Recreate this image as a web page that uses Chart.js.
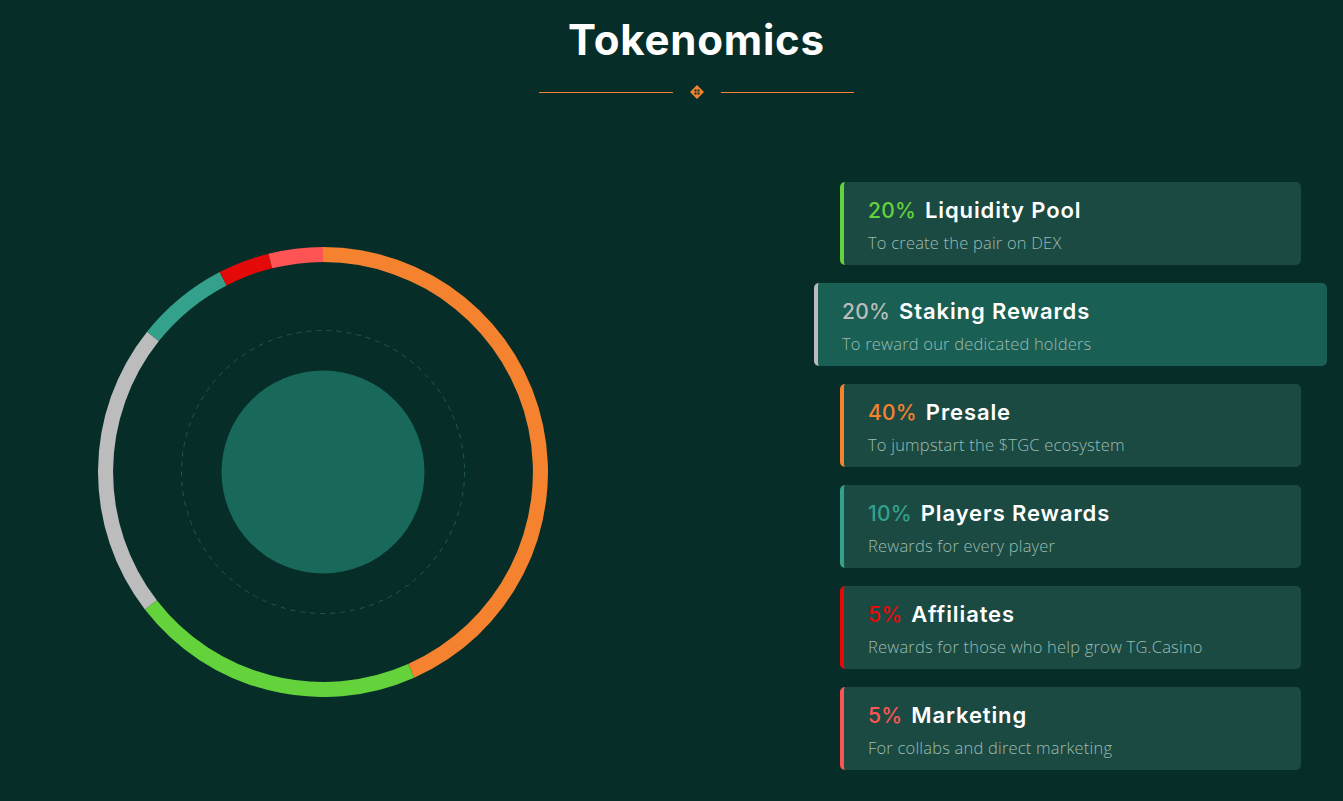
<!DOCTYPE html>
<html>
<head>
<meta charset="utf-8">
<script src="https://cdn.jsdelivr.net/npm/chart.js@4"></script>
<style>
  html, body { margin: 0; padding: 0; }
  body { width: 1343px; height: 801px; background: #062d27; position: relative; overflow: hidden; font-family: Inter, "Open Sans", sans-serif; }
  h1 { position: absolute; left: 0; width: 1393px; top: 14px; margin: 0; text-align: center; color: #fff; font-family: Inter, sans-serif; font-weight: 700; font-size: 42px; letter-spacing: 0.8px; }
  .rule { position: absolute; top: 92px; height: 1px; background: #f5822f; }
  .icon { position: absolute; left: 690px; top: 85px; width: 14px; height: 14px; }
  #ringBox { position: absolute; left: 98px; top: 247px; width: 450px; height: 450px; }
  .card { position: absolute; height: 83px; background: #1b4a42; border-radius: 5px; box-sizing: border-box; border-left: 4px solid; padding-left: 24px; }
  .card.on { background: #1a5f53; }
  .card .head { margin-top: 15px; font-size: 22px; font-weight: 600; color: #fff; white-space: nowrap; letter-spacing: 0.9px; }
  .card .head span { font-size: 21px; font-weight: 500; margin-right: 9px; letter-spacing: 0.2px; }
  .card .note { margin-top: 8px; font-family: "Open Sans", sans-serif; font-weight: 300; font-size: 16.5px; color: #9cbcb2; white-space: nowrap; letter-spacing: 0.2px; }
</style>
</head>
<body>
<h1>Tokenomics</h1>
<div class="rule" style="left:539px;width:134px"></div>
<div class="rule" style="left:721px;width:133px"></div>
<svg class="icon" viewBox="0 0 14 14">
  <path d="M7 0 L14 7 L7 14 L0 7 Z" fill="#f5822f"/>
  <rect x="4.5" y="4.5" width="2" height="2" fill="#062d27"/>
  <rect x="7.5" y="4.5" width="2" height="2" fill="#062d27"/>
  <rect x="4.5" y="7.5" width="2" height="2" fill="#062d27"/>
  <rect x="7.5" y="7.5" width="2" height="2" fill="#062d27"/>
</svg>
<div id="ringBox"><canvas id="ring" width="450" height="450"></canvas></div>
<div id="cards"></div>
<script>
// ring order, clockwise from the top
const ringLabels = ["Presale", "Liquidity Pool", "Staking Rewards", "Players Rewards", "Affiliates", "Marketing"];
const ringValues = [43.4, 21.2, 21.2, 6.7, 3.7, 3.9];
const ringColors = ["#f5822f", "#63d23b", "#bcbcbc", "#34a18d", "#e40a0a", "#ff5454"];

// list on the right
const cardLabels = ["Liquidity Pool", "Staking Rewards", "Presale", "Players Rewards", "Affiliates", "Marketing"];
const cardPercents = [20, 20, 40, 10, 5, 5];
const cardNotes = [
  "To create the pair on DEX",
  "To reward our dedicated holders",
  "To jumpstart the $TGC ecosystem",
  "Rewards for every player",
  "Rewards for those who help grow TG.Casino",
  "For collabs and direct marketing"
];

var box = document.getElementById("cards");
cardLabels.forEach(function (name, i) {
  var c = ringColors[ringLabels.indexOf(name)];
  var on = i === 1;
  var d = document.createElement("div");
  d.className = "card" + (on ? " on" : "");
  d.style.left = (on ? 814 : 840) + "px";
  d.style.width = (on ? 513 : 461) + "px";
  d.style.top = (182 + i * 101) + "px";
  d.style.borderLeftColor = c;
  d.innerHTML = '<div class="head"><span style="color:' + c + '">' + cardPercents[i] + '%</span>' + name + '</div>' +
    '<div class="note">' + cardNotes[i] + '</div>';
  box.appendChild(d);
});

// inner decoration: dashed guide and filled disc
var innerDeco = {
  id: "innerDeco",
  beforeDatasetsDraw: function (chart) {
    var a = chart.getDatasetMeta(0).data[0];
    if (!a) return;
    var g = chart.ctx, r = a.outerRadius;
    g.save();
    g.beginPath();
    g.setLineDash([5, 5]);
    g.lineWidth = 1;
    g.strokeStyle = "#1f5a4e";
    g.arc(a.x, a.y, r * 141.5 / 225, 0, Math.PI * 2);
    g.stroke();
    g.setLineDash([]);
    g.beginPath();
    g.fillStyle = "#19695b";
    g.arc(a.x, a.y, r * 101.5 / 225, 0, Math.PI * 2);
    g.fill();
    g.restore();
  }
};

new Chart(document.getElementById("ring").getContext("2d"), {
  type: "doughnut",
  data: {
    labels: ringLabels,
    datasets: [{ data: ringValues, backgroundColor: ringColors, borderWidth: 0, hoverOffset: 0 }]
  },
  options: {
    responsive: false,
    animation: false,
    cutout: "93.3%",
    layout: { padding: 0 },
    plugins: { legend: { display: false }, tooltip: { enabled: false } }
  },
  plugins: [innerDeco]
});
</script>
</body>
</html>
